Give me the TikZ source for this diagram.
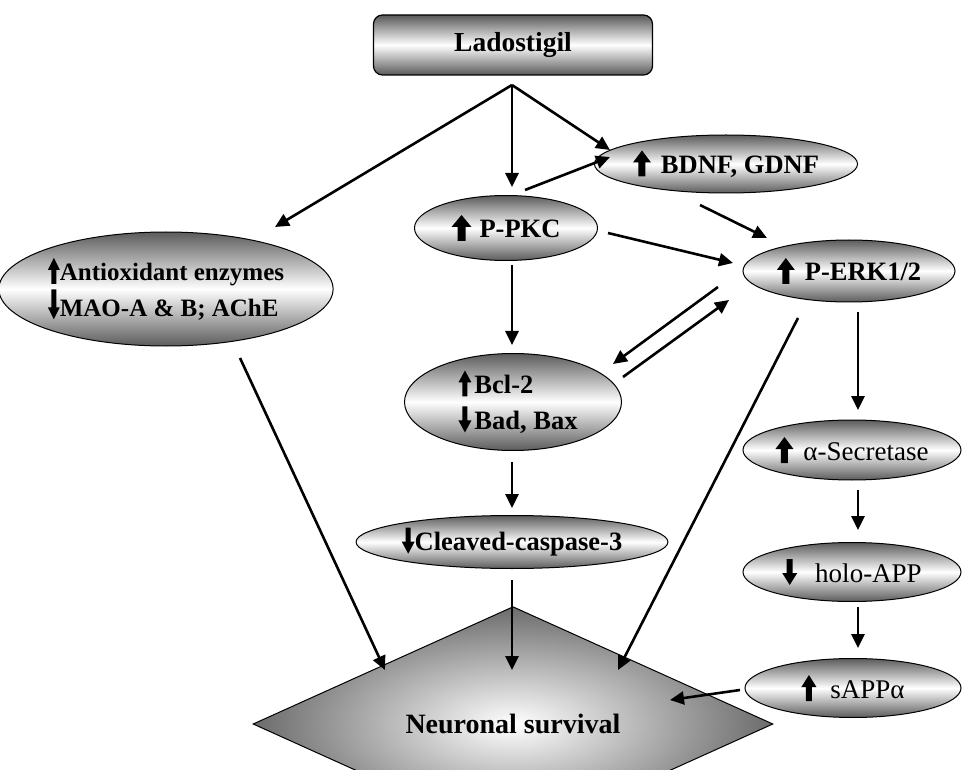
\documentclass[tikz,border=0pt]{standalone}
\usepackage{fontspec}
\setmainfont{Liberation Serif}
\usetikzlibrary{arrows.meta,shapes.geometric,calc}
% small filled block arrows used inside the nodes
\newcommand\vup[3][26]{\tikz[x=1pt,y=1pt,baseline=3pt]\fill[black] (-#3/2,0) -- (#3/2,0) -- (#3/2,#1-12) -- (#2/2,#1-12) -- (0,#1) -- (-#2/2,#1-12) -- (-#3/2,#1-12) -- cycle;}
\newcommand\vdn[3][26]{\tikz[x=1pt,y=1pt,baseline=3pt]\fill[black] (-#3/2,#1) -- (#3/2,#1) -- (#3/2,12) -- (#2/2,12) -- (0,0) -- (-#2/2,12) -- (-#3/2,12) -- cycle;}
\begin{document}
\begin{tikzpicture}[x=1pt,y=-1pt,
  ell/.style={ellipse, draw=black, line width=1pt, inner sep=0pt,
    top color=black!64, bottom color=black!64, middle color=white,
    font=\bfseries\fontsize{26.5}{30}\selectfont},
  ellr/.style={ell, font=\fontsize{27}{30}\selectfont},
  arr/.style={line width=2.6pt, -{Triangle[length=14pt,width=13pt]}},
]
\useasboundingbox (0,0) rectangle (962,770);

% nodes
\node[rounded corners=9pt, draw=black, line width=1.2pt,
      top color=black!65, bottom color=black!65, middle color=white,
      minimum width=279pt, minimum height=60pt, inner sep=0pt,
      font=\bfseries\fontsize{27.5}{30}\selectfont] (lad) at (513,45) {Ladostigil};
\coordinate (split) at (512,85);

\node[ell, minimum width=308pt, minimum height=114pt, align=left,
      font=\bfseries\fontsize{25}{30}\selectfont] (anti) at (166,289)
  {\vup{12}{5}Antioxidant enzymes\\[2pt]\vdn[30]{12}{5}MAO-A \& B; AChE};
\node[ell, minimum width=183pt, minimum height=65pt] (pkc) at (506,228)
  {\vup{20}{8}\hspace{8pt}P-PKC};
\node[ell, minimum width=225pt, minimum height=58pt] (bdnf) at (726,164)
  {\vup{18}{7}\hspace{10pt}BDNF, GDNF};
\node[ell, minimum width=212pt, minimum height=62pt] (erk) at (849,271)
  {\vup{18}{7}\hspace{10pt}P-ERK1/2};
\node[ell, minimum width=217pt, minimum height=97pt, align=left] (bcl) at (513,402)
  {\hspace*{10pt}\vup{13}{5}\hspace{3pt}Bcl-2\\[6pt]\hspace*{10pt}\vdn{13}{5}\hspace{3pt}Bad, Bax};
\node[ell, minimum width=255pt, minimum height=53pt] (casp) at (512,542)
  {\vdn{13}{5}Cleaved-caspase-3};
\node[ellr, minimum width=218pt, minimum height=60pt] (alpha) at (852,450)
  {\vup{18}{7}\hspace{10pt}α-Secretase};
\node[ellr, minimum width=218pt, minimum height=59pt] (holo) at (852,572)
  {\vdn{15}{6}\hspace{18pt}holo-APP};
\node[ellr, minimum width=216pt, minimum height=59pt] (sapp) at (853,688)
  {\vup{15}{6}\hspace{14pt}sAPPα\hspace{40pt}};
\node[diamond, draw=black, line width=1pt, inner sep=0pt,
      minimum width=520pt, minimum height=98pt,
      inner color=white, outer color=black!58,
      font=\bfseries\fontsize{28}{30}\selectfont] (surv) at (513,724) {Neuronal survival};

% connectors
\draw[arr] (split) -- ($(anti)+(109,-62)$);
\draw[arr] (split) -- ($(pkc)+(6,-41)$);
\draw[arr] (split) -- ($(bdnf)+(-116,-14)$);
\draw[arr] ($(pkc)+(19,-38)$) -- ($(bdnf)+(-116,-7)$);
\draw[arr] ($(pkc)+(102,5)$) -- ($(erk)+(-116,-8)$);
\draw[arr] ($(bdnf)+(-26,41)$) -- ($(erk)+(-82,-33)$);
\draw[arr] ($(erk)+(-131,16)$) -- ($(bcl)+(100,-38)$);
\draw[arr] ($(bcl)+(110,-25)$) -- ($(erk)+(-120,29)$);
\draw[arr] ($(pkc)+(6,37)$) -- ($(bcl)+(-1,-57)$);
\draw[arr] ($(bcl)+(-1,60)$) -- ($(casp)+(0,-34)$);
\draw[arr] ($(casp)+(0,38)$) -- ($(surv)+(-1,-54)$);
\draw[arr] ($(anti)+(74,69)$) -- ($(surv)+(-128,-54)$);
\draw[arr] ($(erk)+(-51,47)$) -- ($(surv)+(105,-54)$);
\draw[arr] ($(erk)+(9,41)$) -- ($(alpha)+(6,-40)$);
\draw[arr] ($(alpha)+(6,40)$) -- ($(holo)+(6,-42)$);
\draw[arr] ($(holo)+(6,35)$) -- ($(sapp)+(5,-40)$);
\draw[arr] ($(sapp)+(-113,2)$) -- ($(surv)+(157,-24)$);
\end{tikzpicture}
\end{document}
